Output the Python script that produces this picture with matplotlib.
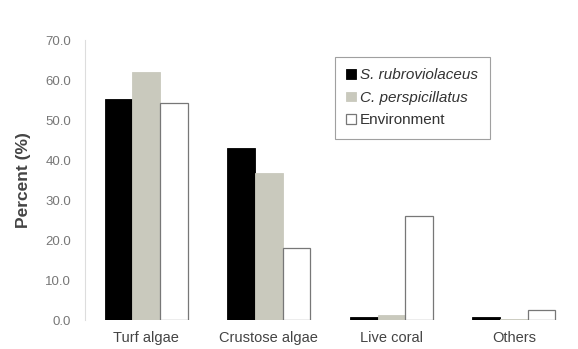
import matplotlib
matplotlib.use("Agg")
import matplotlib.pyplot as plt
import numpy as np

plt.rcParams['font.family'] = ['Liberation Sans', 'DejaVu Sans']

categories = ["Turf algae", "Crustose algae", "Live coral", "Others"]
s_rubro = [55.2, 43.0, 0.8, 0.8]
c_persp = [62.0, 36.8, 1.2, 0.3]
environment = [54.4, 17.9, 26.0, 2.4]
yticks = [0, 10, 20, 30, 40, 50, 60, 70]

fig = plt.figure(figsize=(5.78, 3.49), dpi=100)
ax = fig.add_axes([0.147, 0.083, 0.848, 0.802])

x = np.arange(len(categories))
w = 0.225
ax.bar(x - w, s_rubro, w, color="black", edgecolor="black", linewidth=0.6, label="S. rubroviolaceus")
ax.bar(x, c_persp, w, color="#c9c9bd", edgecolor="#c9c9bd", linewidth=0.6, label="C. perspicillatus")
ax.bar(x + w, environment, w, color="white", edgecolor="#777777", linewidth=0.9, label="Environment")

ax.set_xlim(-0.5, 3.5)
ax.set_ylim(0, 70)
ax.set_yticks(yticks)
ax.set_yticklabels([f"{v:.1f}" for v in yticks], fontsize=9.5, color="#777777")
ax.set_xticks(x)
ax.set_xticklabels(categories, fontsize=10.5, color="#444444")
ax.tick_params(axis='x', length=0, pad=8)
ax.tick_params(axis='y', length=0, pad=10)
ax.set_ylabel("Percent (%)", fontsize=12.5, fontweight="bold", color="#444444", labelpad=10)

for s in ["top", "right", "bottom"]:
    ax.spines[s].set_visible(False)
ax.spines["left"].set_color("#dddddd")
ax.spines["left"].set_linewidth(0.8)

leg = ax.legend(loc="upper left", bbox_to_anchor=(0.51, 0.94), frameon=True, fancybox=False,
                fontsize=11, handlelength=0.6, handleheight=0.6, handletextpad=0.3,
                borderpad=0.75, labelspacing=0.55, edgecolor="#888888", borderaxespad=0)
leg.get_frame().set_linewidth(0.8)
for t, style in zip(leg.get_texts(), ["italic", "italic", "normal"]):
    t.set_fontstyle(style)
    t.set_color("#333333")

fig.savefig("out.png", dpi=100)
